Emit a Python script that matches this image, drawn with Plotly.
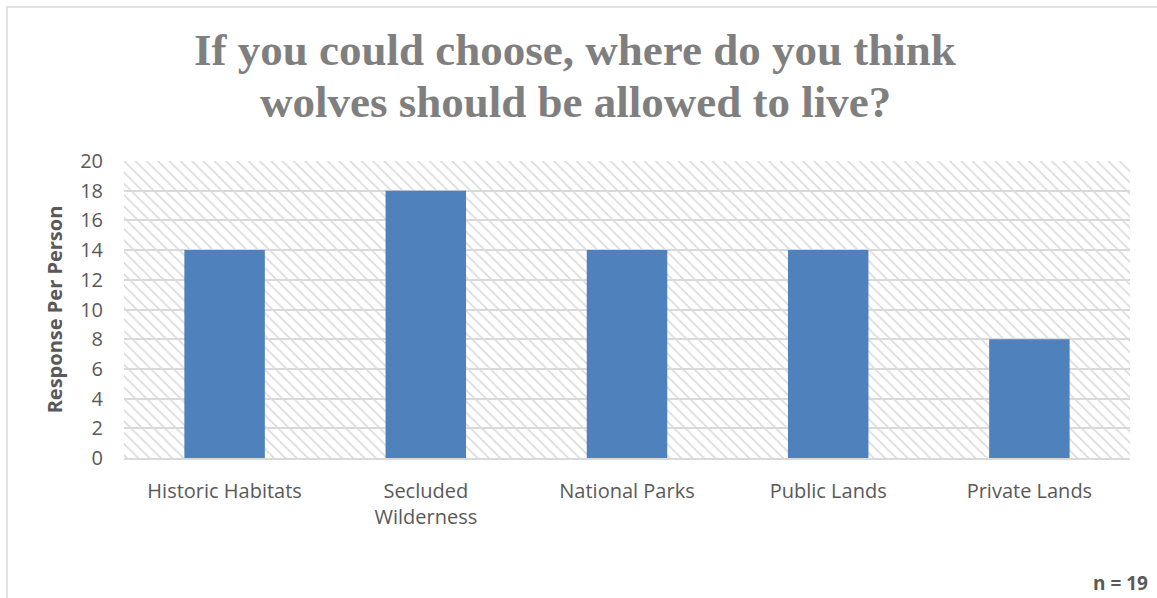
import plotly.graph_objects as go

# Survey responses: preferred places for wolves to live
categories = ["Historic Habitats", "Secluded<br>Wilderness", "National Parks",
              "Public Lands", "Private Lands"]
responses = [14, 18, 14, 14, 8]
y_max = 20
y_ticks = list(range(0, 21, 2))
title_lines = ["If you could choose, where do you think",
               "wolves should be allowed to live?"]
sample_note = "n = 19"

W, H = 1157, 598
L, R, T, B = 124, 27, 161, 140
plot_w = W - L - R
plot_h = H - T - B

fig = go.Figure()

# Hatched plot-area background, one full-width bar per category
fig.add_trace(go.Bar(
    x=categories, y=[y_max] * len(categories), width=1,
    marker=dict(color="rgba(0,0,0,0)", line=dict(width=0),
                pattern=dict(shape="\\", size=8, solidity=0.2,
                             fgcolor="#dadada", bgcolor="rgba(0,0,0,0)",
                             fillmode="replace")),
    hoverinfo="skip", showlegend=False,
))

# Response bars
fig.add_trace(go.Bar(
    x=categories, y=responses, width=0.4,
    marker=dict(color="#4f81bd", line=dict(width=0)),
    showlegend=False,
))


def px_to_paper_x(px):
    return (px - L) / plot_w


def px_to_paper_y(py):
    return (H - B - py) / plot_h


title_font = dict(family="Liberation Serif", size=45, color="#7f7f7f", weight="bold")
annotations = [
    dict(text=line, xref="paper", yref="paper",
         x=px_to_paper_x(575), y=px_to_paper_y(cy),
         xanchor="center", yanchor="middle", showarrow=False, font=title_font)
    for line, cy in zip(title_lines, [50, 102])
]
annotations.append(dict(
    text=sample_note, xref="paper", yref="paper",
    x=px_to_paper_x(1150), y=px_to_paper_y(583),
    xanchor="right", yanchor="middle", showarrow=False,
    font=dict(family="Open Sans", size=19, color="#595959", weight="bold"),
))

fig.update_layout(
    width=W, height=H,
    margin=dict(l=L, r=R, t=T, b=B),
    paper_bgcolor="white", plot_bgcolor="white",
    barmode="overlay",
    xaxis=dict(
        showgrid=False, showline=True, linecolor="#d9d9d9", linewidth=2,
        ticks="", tickfont=dict(family="Open Sans", size=20, color="#595959"),
        ticklabelstandoff=14, zeroline=False,
    ),
    yaxis=dict(
        range=[0, y_max], tickvals=y_ticks, showgrid=True,
        gridcolor="#d9d9d9", gridwidth=2, zeroline=False, showline=False,
        ticks="", tickfont=dict(family="Open Sans", size=20, color="#595959"),
        ticklabelstandoff=20,
        title=dict(text="Response Per Person", standoff=12,
                   font=dict(family="Open Sans", size=20, color="#595959", weight="bold")),
    ),
    shapes=[dict(
        type="rect", xref="paper", yref="paper",
        x0=px_to_paper_x(7), x1=px_to_paper_x(W + 5),
        y0=px_to_paper_y(H + 5), y1=px_to_paper_y(7),
        line=dict(color="#d9d9d9", width=1.5), fillcolor="rgba(0,0,0,0)",
        layer="below",
    )],
    annotations=annotations,
)

fig.write_html("out.html")
